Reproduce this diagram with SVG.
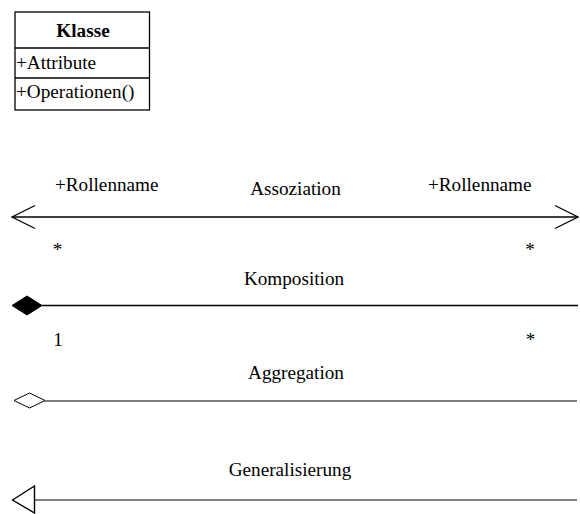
<svg xmlns="http://www.w3.org/2000/svg" width="580" height="514" viewBox="0 0 580 514">
  <style>
    text { font-family: "Liberation Serif", "Times New Roman", serif; font-size: 19.2px; fill: #000; }
    .title { font-weight: bold; }
    .mid { text-anchor: middle; }
    .box { fill: #fff; stroke: #000; stroke-width: 1.3; }
    .line { stroke: #000; stroke-width: 1.3; fill: none; }
    .thin { stroke: #000; stroke-width: 1; fill: none; }
  </style>
  <rect width="580" height="514" fill="#fff"/>

  <!-- UML class box -->
  <g id="klasse">
    <rect class="box" x="15" y="12" width="134.5" height="98"/>
    <line class="line" x1="15" y1="48" x2="149.5" y2="48"/>
    <line class="line" x1="15" y1="78" x2="149.5" y2="78"/>
    <text class="title mid" x="83" y="37">Klasse</text>
    <text x="16" y="69">+Attribute</text>
    <text x="16" y="98">+Operationen()</text>
  </g>

  <g id="connectors">
    <!-- association: open arrows on both ends -->
    <g id="assoziation">
      <line class="line" x1="12" y1="217" x2="578" y2="217"/>
      <polyline class="line" points="35,205.5 12,217 35,228.5" stroke-width="1.6"/>
      <polyline class="line" points="555,205.5 578,217 555,228.5" stroke-width="1.6"/>
      <text x="55" y="191">+Rollenname</text>
      <text x="428" y="191">+Rollenname</text>
      <text class="mid" x="295.5" y="195">Assoziation</text>
      <text class="mid" x="57.5" y="256">*</text>
      <text class="mid" x="530" y="256">*</text>
    </g>

    <!-- composition: filled diamond -->
    <g id="komposition">
      <line class="line" x1="42" y1="305.5" x2="578" y2="305.5"/>
      <polygon points="12,305.5 27,296 42,305.5 27,315" fill="#000" stroke="#000" stroke-width="1"/>
      <text class="mid" x="294" y="285">Komposition</text>
      <text class="mid" x="58" y="346">1</text>
      <text class="mid" x="530.5" y="346">*</text>
    </g>

    <!-- aggregation: hollow diamond -->
    <g id="aggregation">
      <line class="thin" x1="45" y1="401" x2="577" y2="401"/>
      <polygon points="14,400.5 29.5,393 45,400.5 29.5,408" fill="#fff" stroke="#000" stroke-width="1"/>
      <text class="mid" x="296" y="379">Aggregation</text>
    </g>

    <!-- generalization: hollow triangle -->
    <g id="generalisierung">
      <line class="thin" x1="34" y1="500" x2="577" y2="500"/>
      <polygon points="12.5,500 34.5,486 34.5,513" fill="#fff" stroke="#000" stroke-width="1.4"/>
      <text class="mid" x="290" y="476">Generalisierung</text>
    </g>
  </g>
</svg>
